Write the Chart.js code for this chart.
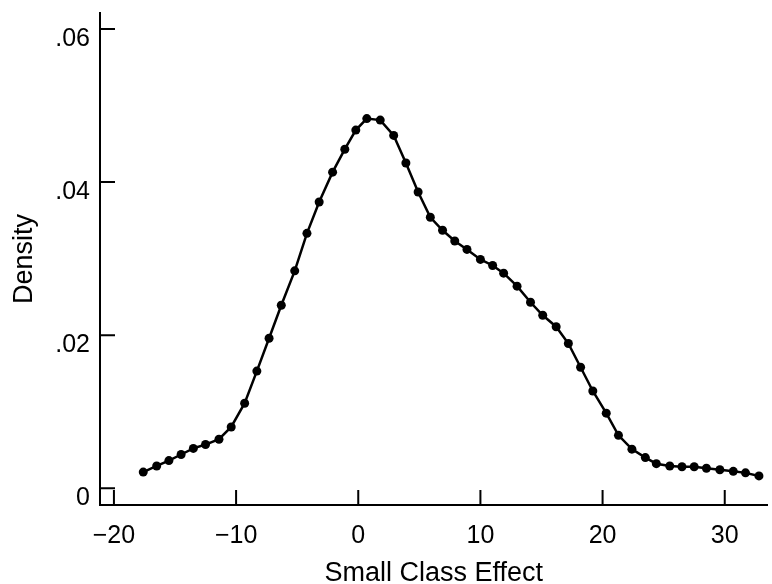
<!DOCTYPE html>
<html>
<head>
<meta charset="utf-8">
<script src="https://cdn.jsdelivr.net/npm/chart.js@4"></script>
<style>
  html, body { margin: 0; padding: 0; background: #fff; }
  #wrap { width: 772px; height: 584px; position: relative; }
</style>
</head>
<body>
<div id="wrap"><canvas id="myChart"></canvas></div>
<script>
// values
const effect = [-17.6, -16.5, -15.5, -14.5, -13.5, -12.5, -11.4, -10.4, -9.3, -8.3,
  -7.3, -6.3, -5.2, -4.2, -3.2, -2.1, -1.1, -0.2, 0.7, 1.8,
  2.9, 3.9, 4.9, 5.9, 6.9, 7.9, 8.9, 10.0, 11.0, 11.9,
  13.0, 14.1, 15.1, 16.2, 17.2, 18.2, 19.2, 20.3, 21.3, 22.4,
  23.5, 24.4, 25.5, 26.5, 27.5, 28.5, 29.6, 30.7, 31.7, 32.8];
const density = [0.0021, 0.0029, 0.0036, 0.0044, 0.0052, 0.0057, 0.0064, 0.0080, 0.0111, 0.0153,
  0.0196, 0.0239, 0.0284, 0.0333, 0.0374, 0.0413, 0.0443, 0.0468, 0.0483, 0.0481,
  0.0461, 0.0425, 0.0387, 0.0354, 0.0337, 0.0323, 0.0312, 0.0299, 0.0291, 0.0281,
  0.0264, 0.0243, 0.0226, 0.0211, 0.0189, 0.0158, 0.0127, 0.0098, 0.0069, 0.0051,
  0.0040, 0.0032, 0.0029, 0.0028, 0.0028, 0.0026, 0.0024, 0.0022, 0.0020, 0.0016];
const xTicks = [-20, -10, 0, 10, 20, 30];
const xTickLabels = ['\u221220', '\u221210', '0', '10', '20', '30'];
const yTicks = [0, 0.02, 0.04, 0.06];
const yTickLabels = ['0', '.02', '.04', '.06'];

const points = effect.map((v, i) => ({x: v, y: density[i]}));
const font = 'Liberation Sans, Arial, Helvetica, sans-serif';

// tick marks in this figure point into the plot
const inwardTicks = {
  id: 'inwardTicks',
  afterDraw(chart) {
    const {ctx, chartArea, scales} = chart;
    ctx.save();
    ctx.strokeStyle = '#000';
    ctx.lineWidth = 2;
    ctx.beginPath();
    scales.x.ticks.forEach(t => {
      const px = scales.x.getPixelForValue(t.value);
      ctx.moveTo(px, chartArea.bottom);
      ctx.lineTo(px, chartArea.bottom - 15);
    });
    scales.y.ticks.forEach(t => {
      const py = scales.y.getPixelForValue(t.value);
      ctx.moveTo(chartArea.left, py);
      ctx.lineTo(chartArea.left + 15, py);
    });
    ctx.stroke();
    ctx.restore();
  }
};

var ctx = document.getElementById('myChart').getContext('2d');
var myChart = new Chart(ctx, {
    type: 'line',
    data: {
        datasets: [{
            data: points,
            borderColor: '#000',
            backgroundColor: '#000',
            borderWidth: 2.5,
            pointRadius: 4.5,
            pointBorderWidth: 0,
            pointBackgroundColor: '#000',
            tension: 0,
            fill: false,
            clip: false
        }]
    },
    options: {
        responsive: true,
        maintainAspectRatio: false,
        animation: false,
        layout: { padding: { top: 13, right: 0, bottom: 0, left: 0 } },
        plugins: {
            legend: { display: false },
            tooltip: { enabled: false }
        },
        scales: {
            x: {
                type: 'linear',
                min: -21.14,
                max: 33.5,
                afterBuildTicks: s => { s.ticks = xTicks.map(v => ({value: v})); },
                afterFit: s => { s.height = 79; s.paddingLeft = 0; s.paddingRight = 0; },
                grid: { display: false, drawTicks: false },
                border: { display: true, color: '#000', width: 2 },
                ticks: {
                    color: '#000',
                    padding: 16,
                    maxRotation: 0,
                    font: { family: font, size: 25 },
                    callback: (v) => xTickLabels[xTicks.indexOf(v)]
                },
                title: {
                    display: true,
                    text: 'Small Class Effect',
                    color: '#000',
                    font: { family: font, size: 27, lineHeight: 1 },
                    padding: { top: 0, bottom: -3 }
                }
            },
            y: {
                min: -0.0022,
                max: 0.0621,
                afterBuildTicks: s => { s.ticks = yTicks.map(v => ({value: v})); },
                afterFit: s => { s.width = 100; s.paddingTop = 0; s.paddingBottom = 0; },
                grid: { display: false, drawTicks: false },
                border: { display: true, color: '#000', width: 2 },
                ticks: {
                    color: '#000',
                    padding: 10,
                    labelOffset: 10,
                    font: { family: font, size: 25 },
                    callback: (v) => yTickLabels[yTicks.indexOf(v)]
                },
                title: {
                    display: true,
                    text: 'Density',
                    color: '#000',
                    font: { family: font, size: 27 },
                    padding: { top: 8, bottom: 0 }
                }
            }
        }
    },
    plugins: [inwardTicks]
});
</script>
</body>
</html>
